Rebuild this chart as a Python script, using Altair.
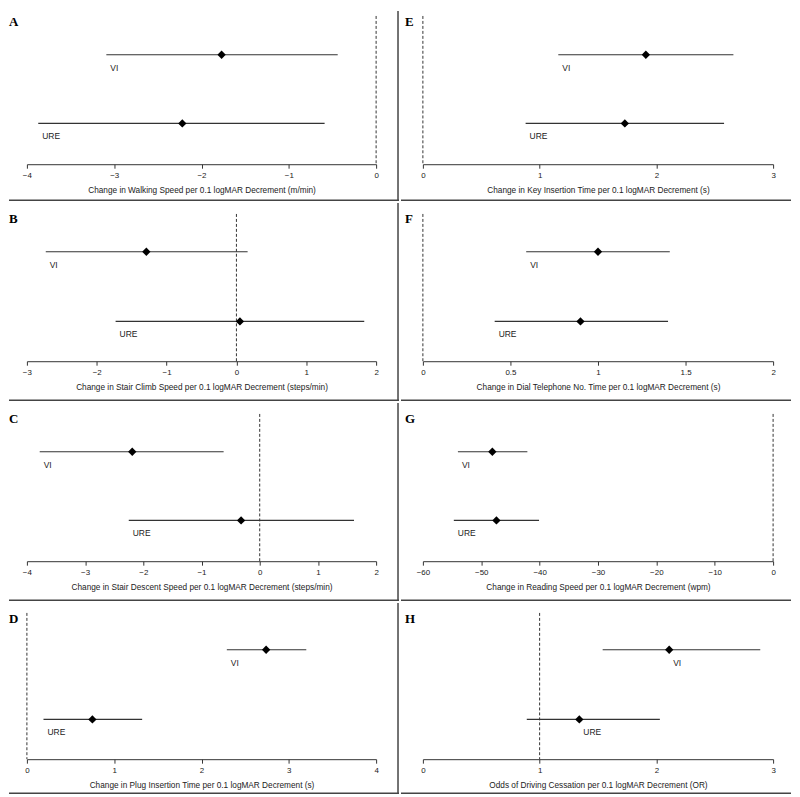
import altair as alt
import pandas as pd

# ---- data ----
panel_letters = ["A", "B", "C", "D", "E", "F", "G", "H"]
axis_titles = [
    "Change in Walking Speed per 0.1 logMAR Decrement (m/min)",
    "Change in Stair Climb Speed per 0.1 logMAR Decrement (steps/min)",
    "Change in Stair Descent Speed per 0.1 logMAR Decrement (steps/min)",
    "Change in Plug Insertion Time per 0.1 logMAR Decrement (s)",
    "Change in Key Insertion Time per 0.1 logMAR Decrement (s)",
    "Change in Dial Telephone No. Time per 0.1 logMAR Decrement (s)",
    "Change in Reading Speed per 0.1 logMAR Decrement (wpm)",
    "Odds of Driving Cessation per 0.1 logMAR Decrement (OR)",
]
groups = ["VI", "URE"]
vi_est = [-1.77, -1.29, -2.19, 2.74, 1.91, 1.00, -48.1, 2.11]
vi_lo = [-3.09, -2.73, -3.78, 2.29, 1.16, 0.59, -54.0, 1.54]
vi_hi = [-0.44, 0.16, -0.62, 3.20, 2.66, 1.41, -42.1, 2.89]
ure_est = [-2.22, 0.05, -0.32, 0.75, 1.73, 0.90, -47.4, 1.34]
ure_lo = [-3.87, -1.73, -2.25, 0.19, 0.88, 0.41, -54.7, 0.89]
ure_hi = [-0.59, 1.83, 1.62, 1.32, 2.58, 1.40, -40.1, 2.03]
ref_value = [0, 0, 0, 0, 0, 0, 0, 1]
x_domains = [[-4, 0], [-3, 2], [-4, 2], [0, 4], [0, 3], [0, 2], [-60, 0], [0, 3]]
x_ticks = [
    [-4, -3, -2, -1, 0],
    [-3, -2, -1, 0, 1, 2],
    [-4, -3, -2, -1, 0, 1, 2],
    [0, 1, 2, 3, 4],
    [0, 1, 2, 3],
    [0, 0.5, 1, 1.5, 2],
    [-60, -50, -40, -30, -20, -10, 0],
    [0, 1, 2, 3],
]
label_anchor = ["lo", "lo", "lo", "lo", "lo", "lo", "lo", "est"]

# ---- layout (pixels); the whole chart stays inside the 784 x 781 page area ----
COL_W = {0: 392, 1: 392}
ROW_H = [191, 199, 199, 192]
# per-row vertical positions: (VI line, URE line, axis, dashed top, letter baseline)
ROW_POS = [(44, 113, 154, 5, 15), (49, 119, 159, 11, 20), (49, 118, 159, 11, 20), (47, 117, 157, 10, 20)]
X_RANGE = {0: [18, 369], 1: [22, 374]}
LETTER_X = {0: 0, 1: 4}
FONT = "Liberation Sans"
INK = "#222222"


def panel(i):
    col = 0 if i < 4 else 1
    row = i % 4
    W = COL_W[col]
    H = ROW_H[row]
    y_vi, y_ure, y_axis, y_top, y_letter = ROW_POS[row]

    df = pd.DataFrame({
        "group": groups,
        "pos": [2, 1],
        "est": [vi_est[i], ure_est[i]],
        "lo": [vi_lo[i], ure_lo[i]],
        "hi": [vi_hi[i], ure_hi[i]],
    })
    df["anchor"] = df["lo"] if label_anchor[i] == "lo" else df["est"]

    xs = alt.Scale(domain=x_domains[i], range=X_RANGE[col], nice=False, zero=False)
    ys = alt.Scale(domain=[1, 2], range=[y_ure, y_vi], nice=False, zero=False)
    xaxis = alt.Axis(
        values=x_ticks[i], format="~g", offset=-(H - y_axis), grid=False,
        domainColor="#333333", tickColor="#333333", domainWidth=1, tickWidth=1,
        tickSize=4, labelPadding=3, labelFontSize=8, labelFont=FONT, labelColor=INK,
        titleFontSize=8.3, titleFont=FONT, titleFontWeight="normal", titleColor=INK,
        titlePadding=6, labelFlush=False, labelOverlap=False,
    )

    base = alt.Chart(df)
    ci = base.mark_rule(color="#333333", strokeWidth=1.2).encode(
        x=alt.X("lo:Q", scale=xs, axis=xaxis, title=axis_titles[i]),
        x2="hi:Q",
        y=alt.Y("pos:Q", scale=ys, axis=None),
    )
    est = base.mark_point(shape="diamond", filled=True, color="black", size=70, opacity=1).encode(
        x="est:Q", y="pos:Q"
    )
    lab = base.mark_text(align="left", baseline="middle", dx=4, dy=13, fontSize=8.5,
                         font=FONT, color=INK).encode(x="anchor:Q", y="pos:Q", text="group:N")
    ref = alt.Chart(pd.DataFrame({"ref": [ref_value[i]]})).mark_rule(
        color="#333333", strokeDash=[3, 2], strokeWidth=1
    ).encode(x="ref:Q", y=alt.value(y_top), y2=alt.value(y_axis))
    letter = alt.Chart(pd.DataFrame({"t": [panel_letters[i]]})).mark_text(
        align="left", baseline="alphabetic", font="Liberation Serif", fontWeight="bold",
        fontSize=13, color="black"
    ).encode(text="t:N", x=alt.value(LETTER_X[col]), y=alt.value(y_letter))
    border = alt.Chart(pd.DataFrame({"b": [0]})).mark_rule(color="#444444", strokeWidth=1.5).encode(
        x=alt.value(0), x2=alt.value(W), y=alt.value(H - 0.75)
    )
    layers = [ref, ci, est, lab, letter, border]
    if col == 0:
        vline = alt.Chart(pd.DataFrame({"b": [0]})).mark_rule(color="#444444", strokeWidth=1.5).encode(
            x=alt.value(W - 1), y=alt.value(0), y2=alt.value(H)
        )
        layers.append(vline)
    return alt.layer(*layers).properties(width=W, height=H)


rows = [alt.hconcat(panel(r), panel(r + 4), spacing=0) for r in range(4)]
chart = alt.vconcat(*rows, spacing=0).properties(padding=0).configure_view(stroke=None)

chart.save("out.html", embed_options={"renderer": "svg", "actions": False})
